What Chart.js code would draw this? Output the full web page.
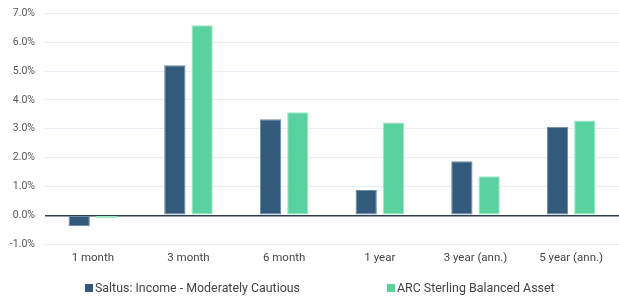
<!DOCTYPE html>
<html>
<head>
<meta charset="utf-8">
<script src="https://cdn.jsdelivr.net/npm/chart.js@4/dist/chart.umd.min.js"></script>
<style>
  html, body { margin: 0; padding: 0; background: #fff; overflow: hidden; }
  #wrap { position: relative; width: 619px; height: 300px; overflow: hidden; }
  #c { position: absolute; left: 0; top: -3px; }
  #legend { position: absolute; left: 0; top: 280px; width: 619px; height: 16px;
    font-family: Roboto, sans-serif; font-size: 12.4px; color: #444; }
  .item { position: absolute; top: 0; line-height: 16px; white-space: nowrap; }
  .box { display: inline-block; width: 8px; height: 8px; margin-right: 2px; vertical-align: 0px; }
</style>
</head>
<body>
<div id="wrap">
  <canvas id="c" width="619" height="300"></canvas>
  <div id="legend"></div>
</div>
<script>
const categories = ["1 month", "3 month", "6 month", "1 year", "3 year (ann.)", "5 year (ann.)"];
const seriesNames = ["Saltus: Income - Moderately Cautious", "ARC Sterling Balanced Asset"];
const saltusValues = [-0.38, 5.20, 3.33, 0.88, 1.87, 3.07];
const arcValues = [-0.10, 6.59, 3.57, 3.22, 1.35, 3.29];
const yTicks = [-1, 0, 1, 2, 3, 4, 5, 6, 7];

const colors = ["#325a7d", "#5ad2a0"];
const borders = ["#6f88a0", "#9fe6c8"];

const chart = new Chart(document.getElementById("c"), {
  type: "bar",
  data: {
    labels: categories,
    datasets: [
      { label: seriesNames[0], data: saltusValues, backgroundColor: colors[0], borderColor: borders[0], borderWidth: 1, borderSkipped: false,
        categoryPercentage: 0.57, barPercentage: 0.78 },
      { label: seriesNames[1], data: arcValues, backgroundColor: colors[1], borderColor: borders[1], borderWidth: 1, borderSkipped: false,
        categoryPercentage: 0.57, barPercentage: 0.78 }
    ]
  },
  options: {
    responsive: false,
    animation: false,
    devicePixelRatio: 1,
    layout: { padding: { top: 0, right: -4, bottom: 25, left: 0 } },
    plugins: { legend: { display: false }, tooltip: { enabled: false } },
    scales: {
      x: {
        grid: { display: false, drawTicks: false },
        border: { display: false },
        ticks: { color: "#444", font: { family: "Roboto", size: 11.5 }, padding: 7, maxRotation: 0 }
      },
      y: {
        min: yTicks[0], max: yTicks[yTicks.length - 1],
        afterBuildTicks: (s) => { s.ticks = yTicks.map(v => ({ value: v })); },
        afterFit: (s) => { s.width = 45; },
        border: { display: false },
        grid: {
          drawTicks: false,
          color: (ctx) => ctx.tick && ctx.tick.value === 0 ? "#2c3e50" : "#e6edf4",
          lineWidth: (ctx) => ctx.tick && ctx.tick.value === 0 ? 1.5 : 1
        },
        ticks: {
          color: "#555", font: { family: "Roboto", size: 10.5 }, padding: 10,
          callback: (v) => v.toFixed(1) + "%"
        }
      }
    }
  }
});

const legend = document.getElementById("legend");
const lefts = [85, 387];
seriesNames.forEach((n, i) => {
  const d = document.createElement("div");
  d.className = "item";
  d.style.left = lefts[i] + "px";
  d.innerHTML = '<span class="box" style="background:' + colors[i] + '"></span>' + n;
  legend.appendChild(d);
});
</script>
</body>
</html>
